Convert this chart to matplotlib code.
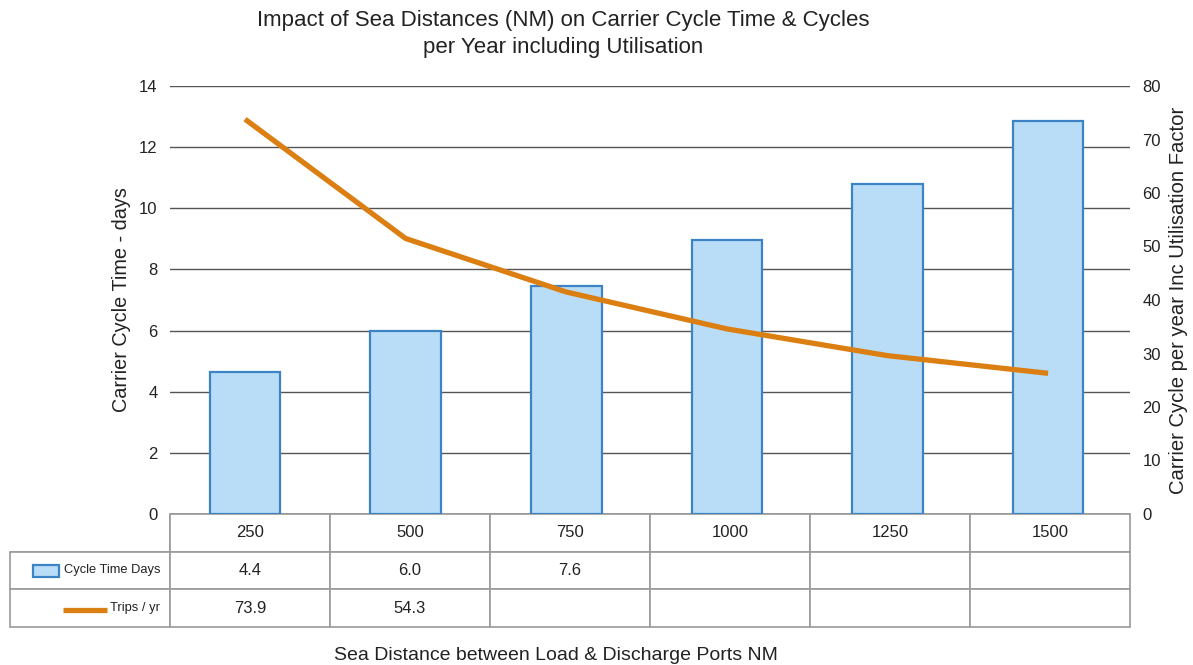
"""Sea distance vs carrier cycle time and trips per year, with data table."""

import matplotlib.pyplot as plt
from matplotlib.patches import Rectangle
from matplotlib.lines import Line2D

plt.rcParams["font.family"] = ["Liberation Sans", "DejaVu Sans"]

distances = ["250", "500", "750", "1000", "1250", "1500"]
cycle_days = [4.65, 6.0, 7.45, 8.95, 10.8, 12.87]
trips_per_year = [73.8, 51.5, 41.5, 34.6, 29.6, 26.3]
table_cycle = ["4.4", "6.0", "7.6", "", "", ""]
table_trips = ["73.9", "54.3", "", "", "", ""]

BAR_FILL = "#b9ddf6"
BAR_EDGE = "#3d84c6"
LINE = "#dc7f12"
GRID = "#555555"
TABLE_EDGE = "#9a9a9a"
TEXT = "#222222"

W, H = 1193, 665
fig = plt.figure(figsize=(W / 100, H / 100), dpi=100)
ax = fig.add_axes([170 / W, 1 - 514 / H, 960 / W, 428 / H])
ax2 = ax.twinx()

x = list(range(len(distances)))
ax.bar(x, cycle_days, width=0.44, color=BAR_FILL, edgecolor=BAR_EDGE,
       linewidth=1.6, zorder=2)
ax.set_xlim(-0.467, 5.51)
ax.set_ylim(0, 14)
ax.set_yticks(range(0, 15, 2))
ax.yaxis.grid(True, color=GRID, linewidth=1.0)
ax.set_axisbelow(True)
ax.set_xticks([])
ax.tick_params(axis="y", length=0, labelsize=12, pad=9, labelcolor=TEXT)
ax.set_ylabel("Carrier Cycle Time - days", fontsize=14.3, color=TEXT, labelpad=6)

ax2.plot(x, trips_per_year, color=LINE, linewidth=3.8, solid_capstyle="butt",
         solid_joinstyle="round")
ax2.set_ylim(0, 80)
ax2.set_yticks(range(0, 81, 10))
ax2.tick_params(axis="y", length=0, labelsize=12, pad=9, labelcolor=TEXT)
ax2.set_ylabel("Carrier Cycle per year Inc Utilisation Factor", fontsize=14.6,
               color=TEXT, labelpad=6)

for a in (ax, ax2):
    for s in a.spines.values():
        s.set_visible(False)

# data table under the plot
cells = [[""] + distances,
         ["Cycle Time Days"] + table_cycle,
         ["Trips / yr"] + table_trips]
tab = ax.table(cellText=cells, cellLoc="center",
               bbox=[-160 / 960, -113 / 428, 1120 / 960, 113 / 428])
tab.auto_set_font_size(False)
for (r, c), cell in tab.get_celld().items():
    cell.set_edgecolor(TABLE_EDGE)
    cell.set_linewidth(1.2)
    cell.get_text().set_fontsize(12)
    cell.get_text().set_color(TEXT)
    if c == 0:
        cell.PAD = 0.06
        cell.get_text().set_horizontalalignment("right")
        cell.get_text().set_fontsize(9.3)
tab[0, 0].visible_edges = "BR"

# legend keys inside the row label cells
ax.add_patch(Rectangle(((33 - 170) / 960, (514 - 577) / 428), 26 / 960, 12 / 428,
                       transform=ax.transAxes, clip_on=False, facecolor=BAR_FILL,
                       edgecolor=BAR_EDGE, linewidth=1.6))
ax.add_line(Line2D([(63 - 170) / 960, (107 - 170) / 960],
                   [(514 - 610) / 428] * 2, transform=ax.transAxes,
                   clip_on=False, color=LINE, linewidth=3.8,
                   solid_capstyle="butt"))

fig.text(563 / W, 1 - 34 / H,
         "Impact of Sea Distances (NM) on Carrier Cycle Time & Cycles\n"
         "per Year including Utilisation",
         ha="center", va="center", fontsize=16, color=TEXT, linespacing=1.35)
fig.text(556 / W, 1 - 655 / H, "Sea Distance between Load & Discharge Ports NM",
         ha="center", va="center", fontsize=14, color=TEXT)

fig.savefig("out.png", dpi=100)
